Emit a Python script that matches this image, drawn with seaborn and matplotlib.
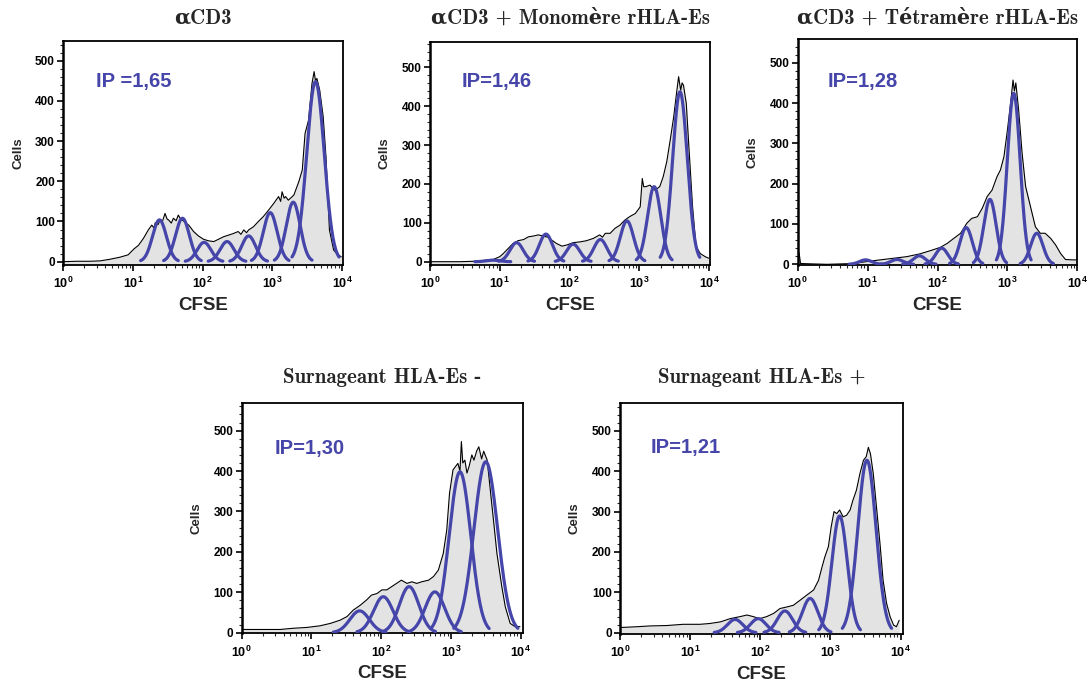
import numpy as np
import pandas as pd
import matplotlib
matplotlib.use("Agg")
import matplotlib.pyplot as plt
import seaborn as sns

# ---------------- data (x in log10 CFSE units, y = cell counts) ----------------
titles = ["αCD3", "αCD3 + Monomère rHLA-Es", "αCD3 + Tétramère rHLA-Es",
          "Surnageant HLA-Es -", "Surnageant HLA-Es +"]
ip_labels = ["IP =1,65", "IP=1,46", "IP=1,28", "IP=1,30", "IP=1,21"]

# histogram outlines
h1_x = [0.00, 0.19, 0.38, 0.53, 0.67, 0.81, 0.93, 1.01, 1.08, 1.15, 1.22, 1.27, 1.30, 1.32, 1.36,
        1.39, 1.42, 1.46, 1.49, 1.51, 1.55, 1.58, 1.62, 1.65, 1.68, 1.72, 1.76, 1.80, 1.87, 1.94,
        2.01, 2.08, 2.16, 2.23, 2.30, 2.37, 2.44, 2.51, 2.55, 2.59, 2.63, 2.66, 2.73, 2.80, 2.87,
        2.95, 3.02, 3.09, 3.12, 3.14, 3.17, 3.19, 3.23, 3.31, 3.38, 3.43, 3.47, 3.52, 3.57, 3.60,
        3.62, 3.64, 3.68, 3.73, 3.77, 3.82, 3.88, 3.93, 3.99]
h1_y = [0, 1, 1, 2, 6, 11, 17, 31, 41, 58, 79, 91, 84, 97, 92,
        104, 99, 120, 106, 104, 96, 108, 102, 116, 107, 102, 96, 91, 75, 64,
        56, 52, 50, 56, 62, 66, 70, 75, 68, 79, 72, 79, 87, 100, 112,
        129, 145, 162, 150, 174, 158, 162, 153, 166, 199, 228, 319,
        352, 444, 473, 450, 456, 427, 361, 261, 79, 29, 19, 12]

h2_x = [0.00, 0.19, 0.43, 0.62, 0.76, 0.91, 1.00, 1.05, 1.12, 1.19, 1.26, 1.34, 1.41, 1.48, 1.55,
        1.62, 1.69, 1.74, 1.81, 1.89, 1.96, 2.05, 2.15, 2.24, 2.34, 2.43, 2.47, 2.51, 2.58, 2.65,
        2.72, 2.79, 2.86, 2.94, 3.01, 3.04, 3.06, 3.09, 3.15, 3.22, 3.29, 3.34, 3.39, 3.44, 3.49,
        3.53, 3.56, 3.59, 3.61, 3.63, 3.67, 3.71, 3.76, 3.81, 3.87, 3.94, 3.99]
h2_y = [0, 0, 0, 1, 3, 6, 13, 21, 34, 47, 54, 57, 64, 66, 69,
        66, 63, 56, 47, 40, 43, 49, 51, 54, 60, 69, 63, 73, 73, 86,
        94, 107, 116, 124, 141, 214, 193, 193, 197, 184, 193, 219, 257, 313, 373,
        433, 476, 441, 460, 454, 407, 287, 141, 39, 21, 13, 9]

h3_x = [0.00, 0.02, 0.04, 0.22, 0.42, 0.61, 0.80, 0.99, 1.18, 1.37, 1.56, 1.75, 1.90, 2.04, 2.14,
        2.23, 2.33, 2.42, 2.49, 2.57, 2.64, 2.71, 2.78, 2.85, 2.90, 2.95, 3.00, 3.05, 3.08, 3.10,
        3.12, 3.16, 3.21, 3.26, 3.33, 3.40, 3.47, 3.54, 3.62, 3.69, 3.76, 3.83, 3.93, 3.99]
h3_y = [2, 28, 2, 1, 0, 1, 2, 7, 11, 15, 19, 26, 34, 42, 52,
        64, 77, 102, 114, 118, 139, 168, 184, 217, 234, 267, 333, 407, 457, 430,
        450, 383, 275, 193, 143, 93, 77, 77, 64, 48, 27, 12, 11, 11]

h4_x = [0.00, 0.31, 0.55, 0.74, 0.93, 1.12, 1.27, 1.41, 1.51, 1.60, 1.70, 1.79, 1.86, 1.94, 2.01,
        2.08, 2.15, 2.22, 2.29, 2.37, 2.44, 2.51, 2.58, 2.68, 2.75, 2.82, 2.89, 2.94, 2.98, 3.03,
        3.10, 3.13, 3.15, 3.17, 3.20, 3.23, 3.26, 3.30, 3.33, 3.37, 3.40, 3.44, 3.47, 3.52, 3.56,
        3.61, 3.66, 3.73, 3.78, 3.85, 3.92, 3.99]
h4_y = [8, 8, 8, 11, 13, 17, 23, 31, 40, 56, 68, 81, 93, 97, 106,
        106, 114, 122, 130, 122, 126, 122, 126, 130, 139, 155, 196, 254, 345, 403,
        419, 400, 473, 420, 427, 395, 411, 440, 427, 450, 460, 430, 449, 427, 361,
        279, 196, 114, 64, 23, 15, 15]

h5_x = [0.00, 0.24, 0.43, 0.67, 0.90, 1.14, 1.28, 1.43, 1.57, 1.71, 1.81, 1.90, 1.99, 2.09, 2.19,
        2.28, 2.38, 2.47, 2.57, 2.66, 2.76, 2.83, 2.88, 2.92, 2.97, 3.01, 3.05, 3.09, 3.13, 3.18,
        3.23, 3.28, 3.32, 3.37, 3.42, 3.47, 3.51, 3.54, 3.57, 3.61, 3.66, 3.71, 3.75, 3.80, 3.85,
        3.90, 3.94, 3.98]
h5_y = [13, 15, 17, 18, 21, 21, 23, 27, 35, 40, 44, 40, 35, 40, 48,
        60, 64, 68, 81, 93, 106, 130, 163, 188, 213, 262, 300, 295, 304, 287,
        291, 304, 328, 353, 394, 427, 436, 459, 443, 394, 304, 213, 130, 73, 40,
        19, 15, 31]

# fitted generation peaks: centre (log10), height (cells), width (log10 sd)
g1_c = [3.62, 3.30, 2.97, 2.66, 2.35, 2.02, 1.71, 1.38]
g1_h = [448, 148, 122, 64, 50, 48, 108, 104]
g1_s = [0.125, 0.10, 0.10, 0.10, 0.10, 0.10, 0.10, 0.10]

g2_c = [3.58, 3.21, 2.82, 2.44, 2.05, 1.66, 1.24, 0.90]
g2_h = [437, 193, 105, 57, 45, 71, 49, 4]
g2_s = [0.105, 0.095, 0.095, 0.095, 0.095, 0.095, 0.095, 0.095]

g3_c = [3.42, 3.09, 2.75, 2.41, 2.06, 1.74, 1.42, 0.97]
g3_h = [77, 424, 161, 91, 40, 21, 12, 11]
g3_s = [0.088, 0.092, 0.088, 0.088, 0.088, 0.088, 0.088, 0.088]

g4_c = [3.50, 3.13, 2.77, 2.40, 2.03, 1.69]
g4_h = [423, 398, 101, 114, 89, 54]
g4_s = [0.17, 0.155, 0.14, 0.14, 0.14, 0.14]

g5_c = [3.52, 3.13, 2.71, 2.35, 1.97, 1.64]
g5_h = [427, 289, 85, 54, 35, 33]
g5_s = [0.13, 0.11, 0.11, 0.11, 0.11, 0.11]

hists = [(h1_x, h1_y), (h2_x, h2_y), (h3_x, h3_y), (h4_x, h4_y), (h5_x, h5_y)]
gens = [(g1_c, g1_h, g1_s), (g2_c, g2_h, g2_s), (g3_c, g3_h, g3_s),
        (g4_c, g4_h, g4_s), (g5_c, g5_h, g5_s)]

# ---------------- layout / style ----------------
positions = [
    [0.0582, 0.6137, 0.2574, 0.3270],
    [0.3952, 0.6137, 0.2574, 0.3255],
    [0.7332, 0.6137, 0.2570, 0.3290],
    [0.2222, 0.0768, 0.2589, 0.3355],
    [0.5699, 0.0758, 0.2598, 0.3363],
]
ylims = [(-8.3, 550), (-8.5, 566), (-1.7, 558), (-1.5, 568), (-3, 568)]
xmax = [4.02, 4.01, 4.0, 4.04, 4.03]
title_y = [0.973, 0.973, 0.973, 0.449, 0.449]
ip_pos = [(0.117, 0.816), (0.113, 0.82), (0.106, 0.812), (0.118, 0.804), (0.109, 0.808)]

sns.set_theme(style="ticks")
plt.rcParams["font.family"] = ["Liberation Sans", "DejaVu Sans"]
plt.rcParams["mathtext.fontset"] = "custom"
plt.rcParams["mathtext.rm"] = "Liberation Sans:bold"
plt.rcParams["mathtext.bf"] = "Liberation Sans:bold"
plt.rcParams["mathtext.it"] = "Liberation Sans:bold"

BLUE = "#4545aa"
FILL = "#e3e3e3"

fig = plt.figure(figsize=(10.88, 6.86), dpi=100)

for i in range(5):
    ax = fig.add_axes(positions[i])
    hx, hy = hists[i]
    df = pd.DataFrame({"CFSE": np.power(10.0, hx), "Cells": hy})
    ax.fill_between(df["CFSE"], df["Cells"], ylims[i][0], color=FILL, linewidth=0, zorder=1)
    sns.lineplot(data=df, x="CFSE", y="Cells", ax=ax, color="black", linewidth=0.8,
                 estimator=None, sort=False, zorder=2)
    cs, hs, ss = gens[i]
    for c, h, s in zip(cs, hs, ss):
        gx = np.linspace(c - 2.7 * s, c + 2.7 * s, 150)
        gy = h * np.exp(-0.5 * ((gx - c) / s) ** 2)
        gdf = pd.DataFrame({"CFSE": np.power(10.0, gx), "Cells": gy})
        sns.lineplot(data=gdf, x="CFSE", y="Cells", ax=ax, color=BLUE, linewidth=2.3,
                     estimator=None, sort=False, zorder=3)
    ax.set_xscale("log")
    ax.set_xlim(1, 10 ** xmax[i])
    ax.set_ylim(*ylims[i])
    ax.set_xticks([1, 10, 100, 1000, 10000])
    ax.set_xticklabels([r"$\mathbf{10^{%d}}$" % k for k in range(5)])
    ax.xaxis.set_minor_locator(matplotlib.ticker.LogLocator(base=10, subs=np.arange(2, 10)))
    ax.xaxis.set_minor_formatter(matplotlib.ticker.NullFormatter())
    ax.set_yticks([0, 100, 200, 300, 400, 500])
    ax.yaxis.set_minor_locator(matplotlib.ticker.MultipleLocator(20))
    ax.tick_params(axis="x", which="major", direction="out", length=4, width=1.2,
                   labelsize=9, pad=4, colors="black")
    ax.tick_params(axis="y", which="major", direction="out", length=4, width=1.2,
                   labelsize=8.5, pad=2, colors="black")
    ax.tick_params(axis="both", which="minor", direction="out", length=2, width=0.8)
    for lab in ax.get_yticklabels():
        lab.set_fontweight("bold")
    for side in ["top", "right", "bottom", "left"]:
        ax.spines[side].set_visible(True)
        ax.spines[side].set_color("black")
        ax.spines[side].set_linewidth(1.3)
    ax.spines["left"].set_linewidth(1.8)
    ax.set_xlabel("CFSE", fontsize=13.5, fontweight="bold", labelpad=4)
    ax.set_ylabel("Cells", fontsize=9.5, fontweight="bold", labelpad=8)
    ax.text(ip_pos[i][0], ip_pos[i][1], ip_labels[i], transform=ax.transAxes,
            color=BLUE, fontsize=14.5, fontweight="bold", va="center", ha="left")
    cx = positions[i][0] + positions[i][2] / 2
    fig.text(cx, title_y[i], titles[i], ha="center", va="center", fontsize=15,
             fontweight="bold", family=["cmb10", "DejaVu Serif"])

fig.savefig("out.png", dpi=100)
